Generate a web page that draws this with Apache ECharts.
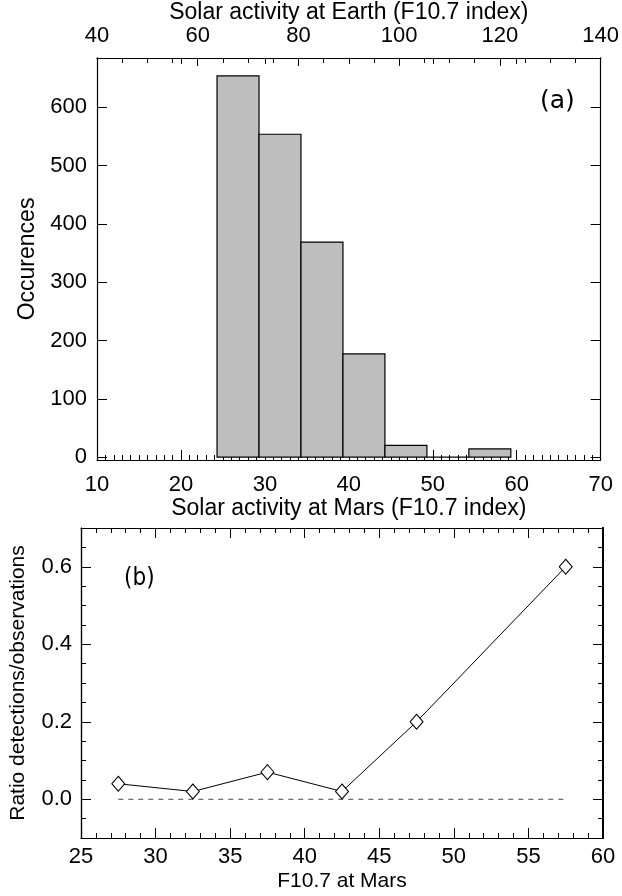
<!DOCTYPE html>
<html><head><meta charset="utf-8">
<script src="https://cdn.jsdelivr.net/npm/echarts@6/dist/echarts.min.js"></script>
<style>html,body{margin:0;padding:0;background:#fff}#c{width:622px;height:896px}</style>
</head><body><div id="c"></div>
<script>
// Panel (a): histogram of occurrences vs Mars F10.7
const binStarts = [24.3, 29.3, 34.3, 39.3, 44.3, 49.3, 54.3];
const binWidth = 5;
const occurrences = [654, 554, 369, 177, 20, 0, 14];
const occTicks = [0, 100, 200, 300, 400, 500, 600];
// Panel (b): ratio detections/observations
const marsF107 = [27.5, 32.5, 37.5, 42.5, 47.5, 57.5];
const ratio = [0.04, 0.02, 0.07, 0.02, 0.2, 0.6];
const zeroLineX = [27.5, 57.5];
const ratioTicks = [0, 0.2, 0.4, 0.6];

const FONT = 'Liberation Sans';
const black = '#000';
const TICK_FS = 22;
const NAME_FS = 23;
const histData = binStarts.map((s, i) => [s, s + binWidth, occurrences[i]]);
const lineData = marsF107.map((x, i) => [x, ratio[i]]);
const zeroData = zeroLineX.map(x => [x, 0]);

function axisBase(extra) {
  return Object.assign({
    type: 'value',
    splitLine: { show: false },
    axisLine: { show: true, onZero: false, lineStyle: { color: black, width: 1.2 } },
    axisTick: { show: true, inside: true, length: 10, lineStyle: { color: black } },
    axisLabel: { show: true, color: black, fontFamily: FONT, fontSize: TICK_FS },
    nameTextStyle: { color: black, fontFamily: FONT, fontSize: NAME_FS }
  }, extra);
}

const chart = echarts.init(document.getElementById('c'), null, { renderer: 'canvas' });
chart.setOption({
  animation: false,
  backgroundColor: '#fff',
  grid: [
    { left: 97, right: 20, top: 54, height: 406 },
    { left: 81, right: 19, top: 528, height: 310 }
  ],
  xAxis: [
    axisBase({
      gridIndex: 0, position: 'bottom', min: 10, max: 70, interval: 10,
      minorTick: { show: true, splitNumber: 10, length: 5, lineStyle: { color: black } },
      axisLabel: { color: black, fontFamily: FONT, fontSize: TICK_FS, margin: 14 },
      name: 'Solar activity at Mars (F10.7 index)', nameLocation: 'middle', nameGap: 37
    }),
    axisBase({
      gridIndex: 0, position: 'top', min: 40, max: 140, interval: 20,
      axisTick: { show: true, inside: true, length: 8, lineStyle: { color: black } },
      minorTick: { show: true, splitNumber: 4, length: 5, lineStyle: { color: black } },
      axisLabel: { color: black, fontFamily: FONT, fontSize: TICK_FS, margin: 11 },
      name: 'Solar activity at Earth (F10.7 index)', nameLocation: 'middle', nameGap: 33
    }),
    axisBase({
      gridIndex: 0, position: 'top', min: 10, max: 70, interval: 10,
      axisTick: { show: true, inside: true, length: 6, lineStyle: { color: black } },
      axisLabel: { show: false }
    }),
    axisBase({
      gridIndex: 1, position: 'bottom', min: 25, max: 60, interval: 5,
      minorTick: { show: true, splitNumber: 5, length: 5, lineStyle: { color: black } },
      axisLabel: { color: black, fontFamily: FONT, fontSize: TICK_FS, margin: 8 },
      name: 'F10.7 at Mars', nameLocation: 'middle', nameGap: 33,
      nameTextStyle: { color: black, fontFamily: FONT, fontSize: 21 }
    }),
    axisBase({
      gridIndex: 1, position: 'top', min: 25, max: 60, interval: 5,
      minorTick: { show: true, splitNumber: 5, length: 5, lineStyle: { color: black } },
      axisLabel: { show: false }
    })
  ],
  yAxis: [
    axisBase({
      gridIndex: 0, position: 'left', min: -5, max: 685,
      axisTick: { show: true, inside: true, length: 10, customValues: occTicks, lineStyle: { color: black } },
      axisLabel: { color: black, fontFamily: FONT, fontSize: TICK_FS, margin: 10, customValues: occTicks },
      name: 'Occurences', nameLocation: 'middle', nameGap: 53
    }),
    axisBase({
      gridIndex: 0, position: 'right', min: -5, max: 685,
      axisTick: { show: true, inside: true, length: 10, customValues: occTicks, lineStyle: { color: black } },
      axisLabel: { show: false }
    }),
    axisBase({
      gridIndex: 1, position: 'left', min: -0.1, max: 0.7,
      axisTick: { show: true, inside: true, length: 10, customValues: ratioTicks, lineStyle: { color: black } },
      axisLabel: { color: black, fontFamily: FONT, fontSize: TICK_FS, margin: 9, customValues: ratioTicks,
        formatter: v => v.toFixed(1) },
      name: 'Ratio detections/observations', nameLocation: 'middle', nameGap: 52,
      nameTextStyle: { color: black, fontFamily: FONT, fontSize: 21 }
    }),
    axisBase({
      gridIndex: 1, position: 'left', min: -0.1, max: 0.7, interval: 0.05,
      axisTick: { show: true, inside: true, length: 5, lineStyle: { color: black } },
      axisLabel: { show: false }
    }),
    axisBase({
      gridIndex: 1, position: 'right', min: -0.1, max: 0.7,
      axisLine: { show: true, onZero: false, lineStyle: { color: black, width: 2 } },
      axisTick: { show: true, inside: true, length: 10, customValues: ratioTicks, lineStyle: { color: black } },
      axisLabel: { show: false }
    }),
    axisBase({
      gridIndex: 1, position: 'right', min: -0.1, max: 0.7, interval: 0.05,
      axisLine: { show: true, onZero: false, lineStyle: { color: black, width: 2 } },
      axisTick: { show: true, inside: true, length: 5, lineStyle: { color: black } },
      axisLabel: { show: false }
    })
  ],
  series: [
    {
      type: 'custom', xAxisIndex: 0, yAxisIndex: 0, data: histData,
      encode: { x: [0, 1], y: 2 },
      renderItem: function (params, api) {
        const p0 = api.coord([api.value(0), 0]);
        const p1 = api.coord([api.value(1), api.value(2)]);
        return {
          type: 'rect',
          shape: { x: p0[0], y: p1[1], width: p1[0] - p0[0], height: p0[1] - p1[1] },
          style: { fill: '#bebebe', stroke: '#000', lineWidth: 1.2 }
        };
      },
      z: 1
    },
    {
      type: 'line', xAxisIndex: 3, yAxisIndex: 2, data: zeroData,
      symbol: 'none', lineStyle: { color: '#444', width: 1, type: [5, 5] }, z: 2
    },
    {
      type: 'line', xAxisIndex: 3, yAxisIndex: 2, data: lineData,
      symbol: 'diamond', symbolSize: [13, 15], showSymbol: true,
      lineStyle: { color: '#000', width: 1 },
      itemStyle: { color: '#fff', borderColor: '#000', borderWidth: 1 }, z: 3
    }
  ],
  graphic: [
    { type: 'text', left: 540, top: 89, style: { text: '(a)', font: '25px "DejaVu Sans"', fill: '#000' } },
    { type: 'text', left: 124, top: 567, style: { text: '(b)', font: '24px "Liberation Sans Narrow", "DejaVu Sans Condensed"', fill: '#000' } }
  ]
});
</script></body></html>
